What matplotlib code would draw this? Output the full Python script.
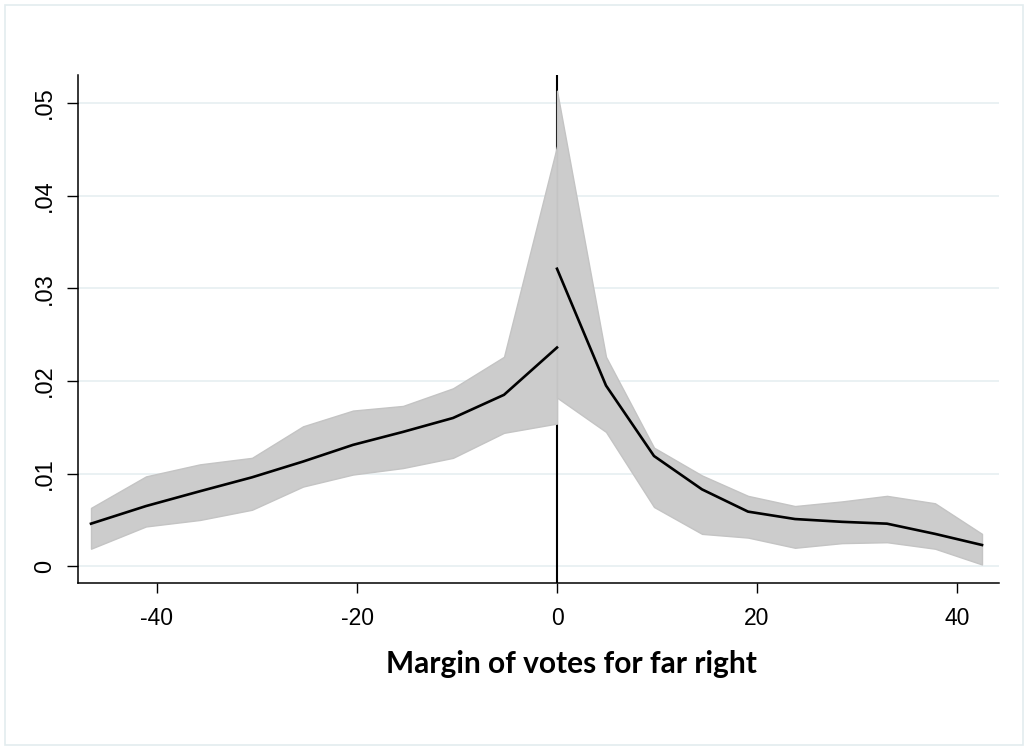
import matplotlib
matplotlib.use("Agg")
from matplotlib import pyplot as plt
from matplotlib.patches import Rectangle
from matplotlib.ticker import FuncFormatter

# local polynomial fit, left of the cutoff
x_left = [-46.6, -41.1, -35.7, -30.5, -25.4, -20.4, -15.4, -10.4, -5.3, 0.0]
fit_left = [0.0046, 0.0065, 0.0081, 0.0096, 0.0113, 0.0131, 0.0145, 0.0160, 0.0185, 0.0236]
ci_hi_left = [0.0063, 0.0097, 0.0110, 0.0117, 0.0151, 0.0168, 0.0173, 0.0192, 0.0226, 0.0453]
ci_lo_left = [0.0019, 0.0043, 0.0050, 0.0061, 0.0086, 0.0099, 0.0106, 0.0117, 0.0144, 0.0154]

# right of the cutoff
x_right = [0.0, 4.9, 9.7, 14.5, 19.1, 23.8, 28.5, 33.0, 37.8, 42.5]
fit_right = [0.0321, 0.0195, 0.0119, 0.0083, 0.0059, 0.0051, 0.0048, 0.0046, 0.0035, 0.0023]
ci_hi_right = [0.0513, 0.0226, 0.0128, 0.0098, 0.0076, 0.0065, 0.0070, 0.0076, 0.0068, 0.0035]
ci_lo_right = [0.0182, 0.0145, 0.0064, 0.0035, 0.0031, 0.0020, 0.0025, 0.0026, 0.0019, 0.0002]

x_ticks = [-40, -20, 0, 20, 40]
y_ticks = [0, 0.01, 0.02, 0.03, 0.04, 0.05]
cutoff = 0

plt.rcParams['font.family'] = ['Liberation Sans', 'DejaVu Sans']
plt.rcParams['axes.unicode_minus'] = False

fig = plt.figure(figsize=(10.28, 7.49), dpi=100)
ax = fig.add_axes([78 / 1028, 166 / 749, 921 / 1028, 508 / 749])

# thin frame around the graph region
fig.patches.append(Rectangle((5 / 1028, 4 / 749), 1018 / 1028, 740 / 749,
                             transform=fig.transFigure, fill=False,
                             edgecolor='#e3ecef', lw=1.2))

for y in y_ticks:
    ax.axhline(y, color='#e8f0f2', lw=1.3, zorder=0)

ax.axvline(cutoff, color='black', lw=1.5, zorder=1)

band = dict(facecolor='#cccccc', edgecolor='#c4c4c4', lw=1, zorder=2)
ax.fill_between(x_left, ci_lo_left, ci_hi_left, **band)
ax.fill_between(x_right, ci_lo_right, ci_hi_right, **band)

ax.plot(x_left, fit_left, color='black', lw=1.9, zorder=3)
ax.plot(x_right, fit_right, color='black', lw=1.9, zorder=3)

ax.set_xlim(-47.9, 44.2)
ax.set_ylim(-0.0018, 0.053)

ax.set_xticks(x_ticks)
ax.set_yticks(y_ticks)
ax.yaxis.set_major_formatter(FuncFormatter(lambda v, p: '0' if v == 0 else f'{v:.2f}'.lstrip('0')))
ax.tick_params(axis='x', length=7.5, width=1, pad=10, labelsize=16.5)
ax.tick_params(axis='y', length=8, width=1, pad=8, labelsize=17)
for lab in ax.get_yticklabels():
    lab.set_rotation(90)
    lab.set_va('center')

for side in ['top', 'right']:
    ax.spines[side].set_visible(False)
for side in ['left', 'bottom']:
    ax.spines[side].set_linewidth(1.1)

fig.text(571 / 1028, (749 - 673) / 749, 'Margin of votes for far right',
         ha='center', va='baseline', fontsize=21.5, fontweight='bold', family='Lato')

fig.savefig('out.png', dpi=100)
